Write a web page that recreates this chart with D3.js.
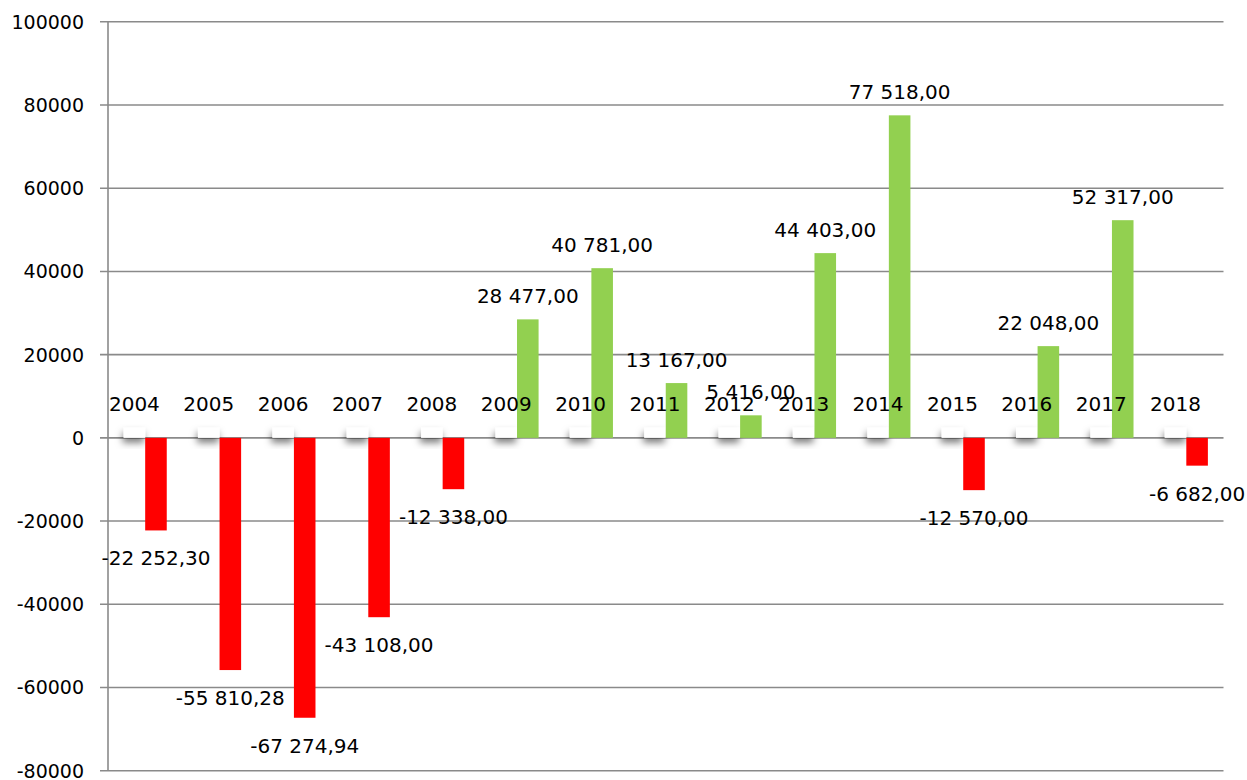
<!DOCTYPE html>
<html lang="en">
<head>
<meta charset="UTF-8">
<title>Bar chart 2004-2018</title>
<script src="https://d3js.org/d3.v7.min.js"></script>
<style>
  body { margin: 0; background: #fff; }
  text { font-family: "DejaVu Sans", sans-serif; font-size: 19px; fill: #000; }
  .lbl { font-size: 20px; }
</style>
</head>
<body>
<div id="chart"></div>
<script>
// data
const years = ["2004","2005","2006","2007","2008","2009","2010","2011","2012","2013","2014","2015","2016","2017","2018"];
const values = [-22252.30, -55810.28, -67274.94, -43108.00, -12338.00, 28477.00, 40781.00, 13167.00, 5416.00, 44403.00, 77518.00, -12570.00, 22048.00, 52317.00, -6682.00];
// small blank series carrying the year labels
const blankValues = [2500, 2500, 2500, 2500, 2500, 2500, 2500, 2500, 2500, 2500, 2500, 2500, 2500, 2500, 2500];
const yTicks = [-80000, -60000, -40000, -20000, 0, 20000, 40000, 60000, 80000, 100000];

const width = 1247, height = 780;
const svg = d3.select("#chart").append("svg")
  .attr("width", width)
  .attr("height", height);

const defs = svg.append("defs");
const shadow = defs.append("filter").attr("id", "shadow")
  .attr("x", "-50%").attr("y", "-50%").attr("width", "200%").attr("height", "250%");
shadow.append("feDropShadow")
  .attr("dx", -1).attr("dy", 5).attr("stdDeviation", 3.5)
  .attr("flood-color", "#000").attr("flood-opacity", 0.5);

const y = d3.scaleLinear().domain([-80000, 100000]).range([770.7, 21.8]);
const x0 = d3.scaleBand().domain(years).range([108, 1223.5]).paddingInner(0.42).paddingOuter(0.21);
const x1 = d3.scaleBand().domain(["blank", "value"]).range([0, x0.bandwidth()]);

const loc = d3.formatLocale({decimal: ",", thousands: "\u00a0", grouping: [3], currency: ["", ""], minus: "-"});
const fmt = loc.format(",.2f");

// gridlines
svg.append("g").selectAll("line")
  .data(yTicks)
  .join("line")
  .attr("x1", 100).attr("x2", 1223.5)
  .attr("y1", d => y(d)).attr("y2", d => y(d))
  .attr("stroke", "#8a8a8a").attr("stroke-width", 1.6);

// y axis line
svg.append("line")
  .attr("x1", 108).attr("x2", 108)
  .attr("y1", y(100000)).attr("y2", y(-80000))
  .attr("stroke", "#8a8a8a").attr("stroke-width", 1.6);

svg.append("g").selectAll("text")
  .data(yTicks)
  .join("text")
  .attr("x", 84)
  .attr("y", d => y(d) + 7)
  .attr("text-anchor", "end")
  .text(d => d);

// blank series with shadow
svg.append("g").selectAll("rect")
  .data(years)
  .join("rect")
  .attr("x", (d, i) => x0(d) + x1("blank"))
  .attr("width", x1.bandwidth())
  .attr("y", (d, i) => y(blankValues[i]))
  .attr("height", (d, i) => y(0) - y(blankValues[i]))
  .attr("fill", "#fff")
  .attr("filter", "url(#shadow)");

// value bars
svg.append("g").selectAll("rect")
  .data(years)
  .join("rect")
  .attr("x", d => x0(d) + x1("value"))
  .attr("width", x1.bandwidth())
  .attr("y", (d, i) => y(Math.max(0, values[i])))
  .attr("height", (d, i) => Math.abs(y(values[i]) - y(0)))
  .attr("fill", (d, i) => values[i] < 0 ? "#ff0000" : "#92d050");

// year labels over the blank series
svg.append("g").selectAll("text")
  .data(years)
  .join("text")
  .attr("class", "lbl")
  .attr("x", d => x0(d) + x1("blank") + x1.bandwidth() / 2)
  .attr("y", (d, i) => y(blankValues[i]) - 16.5)
  .attr("text-anchor", "middle")
  .text(d => d);

// value labels
svg.append("g").selectAll("text")
  .data(years)
  .join("text")
  .attr("class", "lbl")
  .attr("x", d => x0(d) + x1("value") + x1.bandwidth() / 2)
  .attr("y", (d, i) => values[i] < 0 ? y(values[i]) + 35 : y(values[i]) - 16.5)
  .attr("text-anchor", "middle")
  .text((d, i) => fmt(values[i]));
</script>
</body>
</html>
